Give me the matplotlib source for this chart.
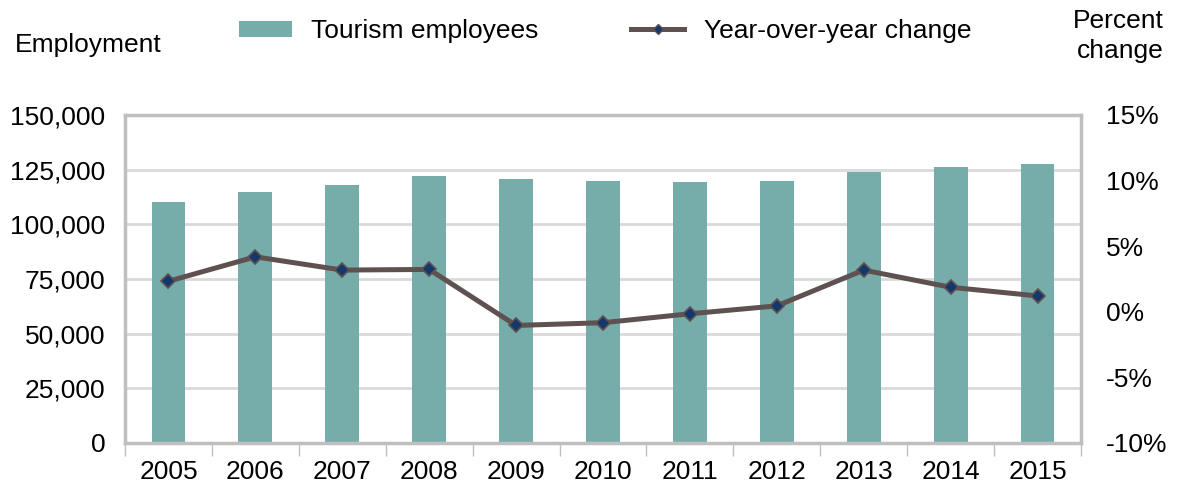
import matplotlib
matplotlib.use("Agg")
import matplotlib.pyplot as plt
from matplotlib.lines import Line2D
from matplotlib.patches import Patch
import numpy as np

plt.rcParams['font.family'] = ['Liberation Sans', 'DejaVu Sans']

years = ["2005", "2006", "2007", "2008", "2009", "2010",
         "2011", "2012", "2013", "2014", "2015"]
employees = [110000, 114700, 118200, 122100, 120900, 119900,
             119500, 120000, 124000, 126400, 127700]
yoy_change = [2.33, 4.19, 3.18, 3.23, -1.04, -0.83,
              -0.15, 0.45, 3.18, 1.87, 1.21]

left_ticks = [0, 25000, 50000, 75000, 100000, 125000, 150000]
right_ticks = [-10, -5, 0, 5, 10, 15]

bar_color = "#76aca9"
line_color = "#5f5150"
marker_color = "#14386b"
grid_color = "#d9d9d9"
frame_color = "#bfbfbf"
fs = 19

fig = plt.figure(figsize=(11.77, 4.91), dpi=100)
ax = fig.add_axes([125 / 1177, 1 - 443 / 491, (1081 - 125) / 1177, (443 - 115) / 491])

x = np.arange(len(years))
ax.bar(x, employees, width=0.39, color=bar_color, zorder=2)
ax.set_xlim(-0.5, len(years) - 0.5)
ax.set_ylim(0, 150000)
ax.set_yticks(left_ticks)
ax.set_yticklabels([f"{v:,}" for v in left_ticks])
for v in left_ticks[1:-1]:
    ax.axhline(v, color=grid_color, lw=2, zorder=1)

ax.set_xticks(x)
ax.set_xticklabels(years)
ax.set_xticks(np.arange(-0.5, len(years)), minor=True)
ax.tick_params(axis='x', which='major', length=0, pad=12, labelsize=fs)
ax.tick_params(axis='x', which='minor', length=9, color=frame_color, width=1)
ax.tick_params(axis='y', length=0, pad=14, labelsize=fs)
for s in ax.spines.values():
    s.set_color(frame_color)
    s.set_linewidth(2.5)

ax2 = ax.twinx()
ax2.set_ylim(-10, 15)
ax2.set_yticks(right_ticks)
ax2.set_yticklabels([f"{v}%" for v in right_ticks])
ax2.tick_params(axis='y', length=0, pad=18, labelsize=fs)
for s in ax2.spines.values():
    s.set_visible(False)
ax2.plot(x, yoy_change, color=line_color, lw=3.6, marker='D', markersize=7,
         markerfacecolor=marker_color, markeredgecolor=line_color,
         markeredgewidth=1.2, zorder=3)

fig.text(15 / 1177, 1 - 45 / 491, "Employment", fontsize=fs, va='center', ha='left')
fig.text(1164 / 1177, 1 - 36 / 491, "Percent\nchange", fontsize=fs,
         va='center', ha='right', multialignment='right', linespacing=1.3)

handles = [Patch(facecolor=bar_color, edgecolor='none'),
           Line2D([0], [0], color=line_color, lw=3.6, marker='D', markersize=5,
                  markerfacecolor=marker_color, markeredgecolor=line_color)]
fig.legend(handles, ["Tourism employees", "Year-over-year change"],
           loc='center', bbox_to_anchor=(605 / 1177, 1 - 31 / 491), ncol=2,
           frameon=False, fontsize=fs, handlelength=2.0, handleheight=0.55,
           columnspacing=3.5, handletextpad=0.75, borderpad=0)

fig.savefig("out.png", dpi=100)
